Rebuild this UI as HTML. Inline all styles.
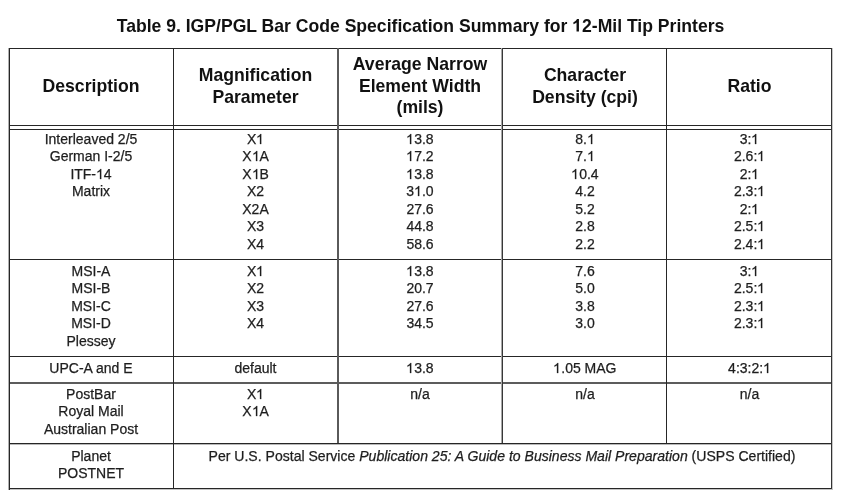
<!DOCTYPE html>
<html><head><meta charset="utf-8"><title>Table 9. IGP/PGL Bar Code Specification Summary for 12-Mil Tip Printers</title>
<style>
html,body{margin:0;padding:0;background:#fff;}
body{width:844px;height:500px;overflow:hidden;position:relative;font-family:"Liberation Sans",sans-serif;}
.t{position:absolute;text-align:center;white-space:nowrap;}
.h{font-weight:bold;font-size:17.62px;line-height:22px;color:#111;}
.b{font-size:14.0px;line-height:17px;color:#1e1e1e;-webkit-text-stroke:0.25px #1e1e1e;}
.l{position:absolute;}
svg.one{display:inline-block;vertical-align:baseline;width:0.5562em;height:0.71875em;fill:currentColor;stroke:currentColor;stroke-width:36;overflow:visible;}
svg.oneb{display:inline-block;vertical-align:baseline;width:0.5562em;height:0.71875em;fill:currentColor;overflow:visible;}
#title{position:absolute;left:9px;width:823px;text-align:center;font-weight:bold;font-size:17.58px;line-height:22px;color:#111;white-space:nowrap;}
</style></head><body><div id="wrap" style="position:absolute;left:0;top:0;width:844px;height:500px;background:#fff;filter:grayscale(1)">
<div id="title" style="top:15px">Table 9. IGP/PGL Bar Code Specification Summary for <svg class="oneb" viewBox="0 0 1139 1472" aria-hidden="true"><path d="M810,1472L529,1472L529,413Q375,557 166,626L166,371Q276,335 405,234.5Q534,134 582,0L810,0Z"/></svg>2-Mil Tip Printers</div>
<div class="l" style="top:48px;left:8px;width:825px;height:1px;background:#262626"></div>
<div class="l" style="top:125px;left:9px;width:823px;height:1px;background:#262626"></div>
<div class="l" style="top:129px;left:9px;width:823px;height:1px;background:#262626"></div>
<div class="l" style="top:259px;left:9px;width:823px;height:1px;background:#262626"></div>
<div class="l" style="top:356px;left:9px;width:823px;height:1px;background:#262626"></div>
<div class="l" style="top:382px;left:9px;width:823px;height:2px;background:#5c5c5c"></div>
<div class="l" style="top:443px;left:9px;width:823px;height:1px;background:#262626"></div>
<div class="l" style="top:444px;left:9px;width:823px;height:1px;background:#b8b8b8"></div>
<div class="l" style="top:488px;left:8px;width:825px;height:1px;background:#262626"></div>
<div class="l" style="top:489px;left:8px;width:825px;height:1px;background:#c4c4c4"></div>
<div class="l" style="left:8px;top:48px;height:442px;width:1px;background:#b0b0b0"></div>
<div class="l" style="left:9px;top:48px;height:442px;width:1px;background:#262626"></div>
<div class="l" style="left:173px;top:48px;height:441px;width:1px;background:#262626"></div>
<div class="l" style="left:337px;top:48px;height:395px;width:2px;background:#5a5a5a"></div>
<div class="l" style="left:501px;top:48px;height:395px;width:1px;background:#a8a8a8"></div>
<div class="l" style="left:502px;top:48px;height:395px;width:1px;background:#383838"></div>
<div class="l" style="left:666px;top:48px;height:395px;width:1px;background:#262626"></div>
<div class="l" style="left:831px;top:48px;height:441px;width:1px;background:#333"></div>
<div class="l" style="left:832px;top:48px;height:441px;width:1px;background:#c8c8c8"></div>
<div class="t h" style="left:9px;width:164px;top:75px">Description</div>
<div class="t h" style="left:173px;width:165px;top:64px">Magnification</div>
<div class="t h" style="left:173px;width:165px;top:86px">Parameter</div>
<div class="t h" style="left:338px;width:164px;top:53px">Average Narrow</div>
<div class="t h" style="left:338px;width:164px;top:75px">Element Width</div>
<div class="t h" style="left:338px;width:164px;top:96px">(mils)</div>
<div class="t h" style="left:503px;width:164px;top:64px">Character</div>
<div class="t h" style="left:503px;width:164px;top:86px">Density (cpi)</div>
<div class="t h" style="left:667px;width:165px;top:75px">Ratio</div>
<div class="t b" style="left:9px;width:164px;top:131px">Interleaved 2/5</div>
<div class="t b" style="left:9px;width:164px;top:148px">German I-2/5</div>
<div class="t b" style="left:9px;width:164px;top:166px">ITF-<svg class="one" viewBox="0 0 1139 1472" aria-hidden="true"><path d="M763,1472L583,1472L583,325Q518,387 412.5,449Q307,511 223,542L223,368Q374,297 487,196Q600,95 647,0L763,0Z"/></svg>4</div>
<div class="t b" style="left:9px;width:164px;top:183px">Matrix</div>
<div class="t b" style="left:173px;width:165px;top:131px">X<svg class="one" viewBox="0 0 1139 1472" aria-hidden="true"><path d="M763,1472L583,1472L583,325Q518,387 412.5,449Q307,511 223,542L223,368Q374,297 487,196Q600,95 647,0L763,0Z"/></svg></div>
<div class="t b" style="left:173px;width:165px;top:148px">X<svg class="one" viewBox="0 0 1139 1472" aria-hidden="true"><path d="M763,1472L583,1472L583,325Q518,387 412.5,449Q307,511 223,542L223,368Q374,297 487,196Q600,95 647,0L763,0Z"/></svg>A</div>
<div class="t b" style="left:173px;width:165px;top:166px">X<svg class="one" viewBox="0 0 1139 1472" aria-hidden="true"><path d="M763,1472L583,1472L583,325Q518,387 412.5,449Q307,511 223,542L223,368Q374,297 487,196Q600,95 647,0L763,0Z"/></svg>B</div>
<div class="t b" style="left:173px;width:165px;top:183px">X2</div>
<div class="t b" style="left:173px;width:165px;top:201px">X2A</div>
<div class="t b" style="left:173px;width:165px;top:218px">X3</div>
<div class="t b" style="left:173px;width:165px;top:236px">X4</div>
<div class="t b" style="left:338px;width:164px;top:131px"><svg class="one" viewBox="0 0 1139 1472" aria-hidden="true"><path d="M763,1472L583,1472L583,325Q518,387 412.5,449Q307,511 223,542L223,368Q374,297 487,196Q600,95 647,0L763,0Z"/></svg>3.8</div>
<div class="t b" style="left:338px;width:164px;top:148px"><svg class="one" viewBox="0 0 1139 1472" aria-hidden="true"><path d="M763,1472L583,1472L583,325Q518,387 412.5,449Q307,511 223,542L223,368Q374,297 487,196Q600,95 647,0L763,0Z"/></svg>7.2</div>
<div class="t b" style="left:338px;width:164px;top:166px"><svg class="one" viewBox="0 0 1139 1472" aria-hidden="true"><path d="M763,1472L583,1472L583,325Q518,387 412.5,449Q307,511 223,542L223,368Q374,297 487,196Q600,95 647,0L763,0Z"/></svg>3.8</div>
<div class="t b" style="left:338px;width:164px;top:183px">3<svg class="one" viewBox="0 0 1139 1472" aria-hidden="true"><path d="M763,1472L583,1472L583,325Q518,387 412.5,449Q307,511 223,542L223,368Q374,297 487,196Q600,95 647,0L763,0Z"/></svg>.0</div>
<div class="t b" style="left:338px;width:164px;top:201px">27.6</div>
<div class="t b" style="left:338px;width:164px;top:218px">44.8</div>
<div class="t b" style="left:338px;width:164px;top:236px">58.6</div>
<div class="t b" style="left:503px;width:164px;top:131px">8.<svg class="one" viewBox="0 0 1139 1472" aria-hidden="true"><path d="M763,1472L583,1472L583,325Q518,387 412.5,449Q307,511 223,542L223,368Q374,297 487,196Q600,95 647,0L763,0Z"/></svg></div>
<div class="t b" style="left:503px;width:164px;top:148px">7.<svg class="one" viewBox="0 0 1139 1472" aria-hidden="true"><path d="M763,1472L583,1472L583,325Q518,387 412.5,449Q307,511 223,542L223,368Q374,297 487,196Q600,95 647,0L763,0Z"/></svg></div>
<div class="t b" style="left:503px;width:164px;top:166px"><svg class="one" viewBox="0 0 1139 1472" aria-hidden="true"><path d="M763,1472L583,1472L583,325Q518,387 412.5,449Q307,511 223,542L223,368Q374,297 487,196Q600,95 647,0L763,0Z"/></svg>0.4</div>
<div class="t b" style="left:503px;width:164px;top:183px">4.2</div>
<div class="t b" style="left:503px;width:164px;top:201px">5.2</div>
<div class="t b" style="left:503px;width:164px;top:218px">2.8</div>
<div class="t b" style="left:503px;width:164px;top:236px">2.2</div>
<div class="t b" style="left:667px;width:165px;top:131px">3:<svg class="one" viewBox="0 0 1139 1472" aria-hidden="true"><path d="M763,1472L583,1472L583,325Q518,387 412.5,449Q307,511 223,542L223,368Q374,297 487,196Q600,95 647,0L763,0Z"/></svg></div>
<div class="t b" style="left:667px;width:165px;top:148px">2.6:<svg class="one" viewBox="0 0 1139 1472" aria-hidden="true"><path d="M763,1472L583,1472L583,325Q518,387 412.5,449Q307,511 223,542L223,368Q374,297 487,196Q600,95 647,0L763,0Z"/></svg></div>
<div class="t b" style="left:667px;width:165px;top:166px">2:<svg class="one" viewBox="0 0 1139 1472" aria-hidden="true"><path d="M763,1472L583,1472L583,325Q518,387 412.5,449Q307,511 223,542L223,368Q374,297 487,196Q600,95 647,0L763,0Z"/></svg></div>
<div class="t b" style="left:667px;width:165px;top:183px">2.3:<svg class="one" viewBox="0 0 1139 1472" aria-hidden="true"><path d="M763,1472L583,1472L583,325Q518,387 412.5,449Q307,511 223,542L223,368Q374,297 487,196Q600,95 647,0L763,0Z"/></svg></div>
<div class="t b" style="left:667px;width:165px;top:201px">2:<svg class="one" viewBox="0 0 1139 1472" aria-hidden="true"><path d="M763,1472L583,1472L583,325Q518,387 412.5,449Q307,511 223,542L223,368Q374,297 487,196Q600,95 647,0L763,0Z"/></svg></div>
<div class="t b" style="left:667px;width:165px;top:218px">2.5:<svg class="one" viewBox="0 0 1139 1472" aria-hidden="true"><path d="M763,1472L583,1472L583,325Q518,387 412.5,449Q307,511 223,542L223,368Q374,297 487,196Q600,95 647,0L763,0Z"/></svg></div>
<div class="t b" style="left:667px;width:165px;top:236px">2.4:<svg class="one" viewBox="0 0 1139 1472" aria-hidden="true"><path d="M763,1472L583,1472L583,325Q518,387 412.5,449Q307,511 223,542L223,368Q374,297 487,196Q600,95 647,0L763,0Z"/></svg></div>
<div class="t b" style="left:9px;width:164px;top:263px">MSI-A</div>
<div class="t b" style="left:9px;width:164px;top:280px">MSI-B</div>
<div class="t b" style="left:9px;width:164px;top:298px">MSI-C</div>
<div class="t b" style="left:9px;width:164px;top:315px">MSI-D</div>
<div class="t b" style="left:9px;width:164px;top:333px">Plessey</div>
<div class="t b" style="left:173px;width:165px;top:263px">X<svg class="one" viewBox="0 0 1139 1472" aria-hidden="true"><path d="M763,1472L583,1472L583,325Q518,387 412.5,449Q307,511 223,542L223,368Q374,297 487,196Q600,95 647,0L763,0Z"/></svg></div>
<div class="t b" style="left:173px;width:165px;top:280px">X2</div>
<div class="t b" style="left:173px;width:165px;top:298px">X3</div>
<div class="t b" style="left:173px;width:165px;top:315px">X4</div>
<div class="t b" style="left:338px;width:164px;top:263px"><svg class="one" viewBox="0 0 1139 1472" aria-hidden="true"><path d="M763,1472L583,1472L583,325Q518,387 412.5,449Q307,511 223,542L223,368Q374,297 487,196Q600,95 647,0L763,0Z"/></svg>3.8</div>
<div class="t b" style="left:338px;width:164px;top:280px">20.7</div>
<div class="t b" style="left:338px;width:164px;top:298px">27.6</div>
<div class="t b" style="left:338px;width:164px;top:315px">34.5</div>
<div class="t b" style="left:503px;width:164px;top:263px">7.6</div>
<div class="t b" style="left:503px;width:164px;top:280px">5.0</div>
<div class="t b" style="left:503px;width:164px;top:298px">3.8</div>
<div class="t b" style="left:503px;width:164px;top:315px">3.0</div>
<div class="t b" style="left:667px;width:165px;top:263px">3:<svg class="one" viewBox="0 0 1139 1472" aria-hidden="true"><path d="M763,1472L583,1472L583,325Q518,387 412.5,449Q307,511 223,542L223,368Q374,297 487,196Q600,95 647,0L763,0Z"/></svg></div>
<div class="t b" style="left:667px;width:165px;top:280px">2.5:<svg class="one" viewBox="0 0 1139 1472" aria-hidden="true"><path d="M763,1472L583,1472L583,325Q518,387 412.5,449Q307,511 223,542L223,368Q374,297 487,196Q600,95 647,0L763,0Z"/></svg></div>
<div class="t b" style="left:667px;width:165px;top:298px">2.3:<svg class="one" viewBox="0 0 1139 1472" aria-hidden="true"><path d="M763,1472L583,1472L583,325Q518,387 412.5,449Q307,511 223,542L223,368Q374,297 487,196Q600,95 647,0L763,0Z"/></svg></div>
<div class="t b" style="left:667px;width:165px;top:315px">2.3:<svg class="one" viewBox="0 0 1139 1472" aria-hidden="true"><path d="M763,1472L583,1472L583,325Q518,387 412.5,449Q307,511 223,542L223,368Q374,297 487,196Q600,95 647,0L763,0Z"/></svg></div>
<div class="t b" style="left:9px;width:164px;top:360px">UPC-A and E</div>
<div class="t b" style="left:173px;width:165px;top:360px">default</div>
<div class="t b" style="left:338px;width:164px;top:360px"><svg class="one" viewBox="0 0 1139 1472" aria-hidden="true"><path d="M763,1472L583,1472L583,325Q518,387 412.5,449Q307,511 223,542L223,368Q374,297 487,196Q600,95 647,0L763,0Z"/></svg>3.8</div>
<div class="t b" style="left:503px;width:164px;top:360px"><svg class="one" viewBox="0 0 1139 1472" aria-hidden="true"><path d="M763,1472L583,1472L583,325Q518,387 412.5,449Q307,511 223,542L223,368Q374,297 487,196Q600,95 647,0L763,0Z"/></svg>.05 MAG</div>
<div class="t b" style="left:667px;width:165px;top:360px">4:3:2:<svg class="one" viewBox="0 0 1139 1472" aria-hidden="true"><path d="M763,1472L583,1472L583,325Q518,387 412.5,449Q307,511 223,542L223,368Q374,297 487,196Q600,95 647,0L763,0Z"/></svg></div>
<div class="t b" style="left:9px;width:164px;top:386px">PostBar</div>
<div class="t b" style="left:9px;width:164px;top:403px">Royal Mail</div>
<div class="t b" style="left:9px;width:164px;top:421px">Australian Post</div>
<div class="t b" style="left:173px;width:165px;top:386px">X<svg class="one" viewBox="0 0 1139 1472" aria-hidden="true"><path d="M763,1472L583,1472L583,325Q518,387 412.5,449Q307,511 223,542L223,368Q374,297 487,196Q600,95 647,0L763,0Z"/></svg></div>
<div class="t b" style="left:173px;width:165px;top:403px">X<svg class="one" viewBox="0 0 1139 1472" aria-hidden="true"><path d="M763,1472L583,1472L583,325Q518,387 412.5,449Q307,511 223,542L223,368Q374,297 487,196Q600,95 647,0L763,0Z"/></svg>A</div>
<div class="t b" style="left:338px;width:164px;top:386px">n/a</div>
<div class="t b" style="left:503px;width:164px;top:386px">n/a</div>
<div class="t b" style="left:667px;width:165px;top:386px">n/a</div>
<div class="t b" style="left:9px;width:164px;top:448px">Planet</div>
<div class="t b" style="left:9px;width:164px;top:465px">POSTNET</div>
<div class="t b" style="left:173px;width:658px;top:448px"><span style='font-size:14.06px'>Per U.S. Postal Service <i>Publication 25: A Guide to Business Mail Preparation</i> (USPS Certified)</span></div>
</div></body></html>
